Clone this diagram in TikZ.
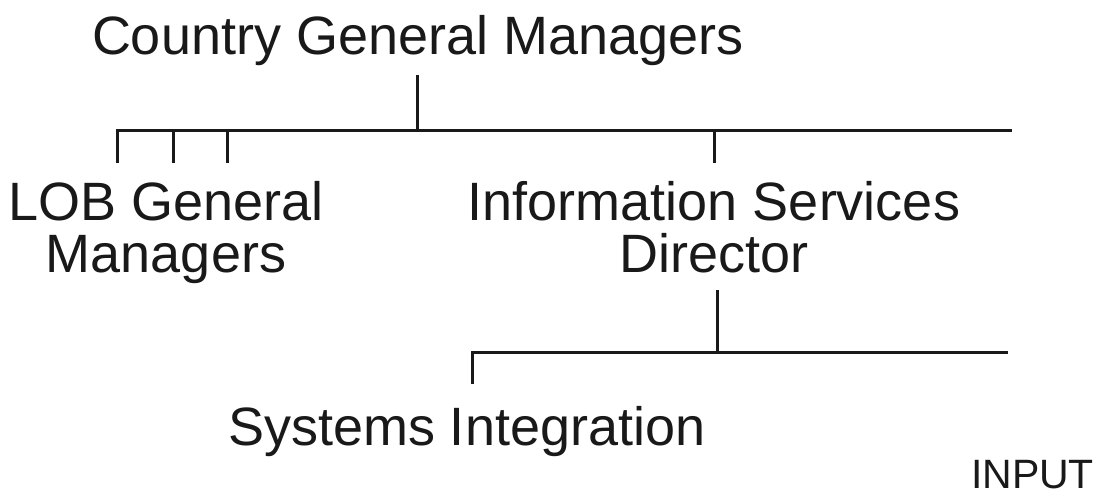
\documentclass[tikz,border=0pt]{standalone}
\usepackage{fontspec}
\setmainfont{Liberation Sans}
\begin{document}
\begin{tikzpicture}[x=1pt,y=-1pt,
  lbl/.style={inner sep=0pt, outer sep=0pt, font=\fontsize{54}{52}\selectfont, text=black!90},
  small/.style={inner sep=0pt, outer sep=0pt, font=\fontsize{41}{48}\selectfont, text=black!90},
  wire/.style={line width=3pt, draw=black!90}]
\useasboundingbox (0,0) rectangle (1101,495);
% nodes
\node[lbl, anchor=base west] (cgm) at (92,55) {Country General Managers};
\node[lbl, anchor=base, align=center] (lob) at (166,272) {LOB General\\Managers};
\node[lbl, anchor=base, align=center] (isd) at (714,272) {Information Services\\Director};
\node[lbl, anchor=base west] (si) at (228,445) {Systems Integration};
\node[small, anchor=base east] (inp) at (1094,488) {INPUT};
% junction coordinates
\coordinate (cgmfoot) at (417,75);
\coordinate (busA) at (417,130);
\coordinate (busL) at (117,130);
\coordinate (busR) at (1012,130);
\coordinate (lob1) at (117,163);
\coordinate (lob2t) at (173,130);
\coordinate (lob2) at (173,163);
\coordinate (lob3t) at (227,130);
\coordinate (lob3) at (227,163);
\coordinate (isdt) at (714,130);
\coordinate (isdtop) at (714,163);
\coordinate (isdfoot) at (717,290);
\coordinate (busB) at (717,352);
\coordinate (busBL) at (472,352);
\coordinate (busBR) at (1008,352);
\coordinate (sitop) at (472,384);
% connectors
\draw[wire] (cgmfoot) -- (busA);
\draw[wire] (lob1) -- (busL) -- (busR);
\draw[wire] (lob2t) -- (lob2);
\draw[wire] (lob3t) -- (lob3);
\draw[wire] (isdt) -- (isdtop);
\draw[wire] (isdfoot) -- (busB);
\draw[wire] (sitop) -- (busBL) -- (busBR);
\end{tikzpicture}
\end{document}
